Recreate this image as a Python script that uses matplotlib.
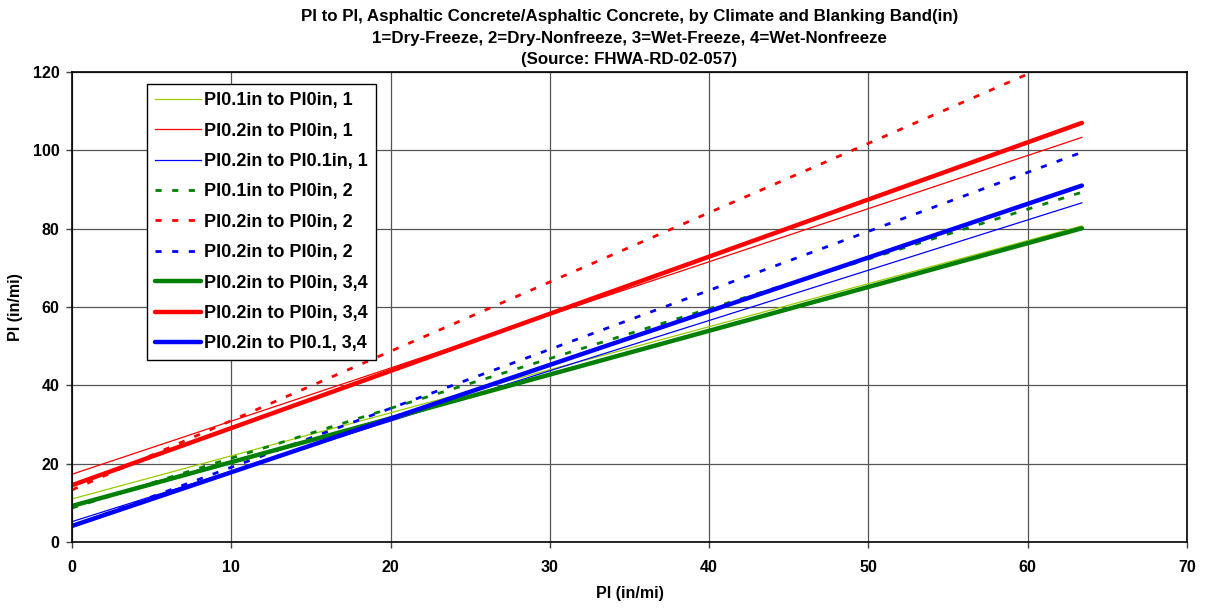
import matplotlib
matplotlib.use("Agg")
import matplotlib.pyplot as plt
import numpy as np

plt.rcParams['font.family'] = ['Liberation Sans', 'DejaVu Sans']
plt.rcParams['font.weight'] = 'bold'

# Regression lines: PI at x_start and x_end
x_start = 0.0
x_end = 63.4
labels = ["PI0.1in to PI0in, 1", "PI0.2in to PI0in, 1", "PI0.2in to PI0.1in, 1",
          "PI0.1in to PI0in, 2", "PI0.2in to PI0in, 2", "PI0.2in to PI0in, 2",
          "PI0.2in to PI0in, 3,4", "PI0.2in to PI0in, 3,4", "PI0.2in to PI0.1, 3,4"]
y_at_start = [11.0, 17.3, 5.2, 8.7, 13.3, 4.0, 9.2, 14.5, 4.1]
y_at_end = [80.7, 103.3, 86.6, 89.3, 125.5, 99.5, 80.1, 107.0, 91.0]
colors = ['#99CC00', '#FF0000', '#0000FF', '#008000', '#FF0000', '#0000FF',
          '#008000', '#FF0000', '#0000FF']
kinds = ['thin', 'thin', 'thin', 'dash', 'dash', 'dash', 'thick', 'thick', 'thick']

fig = plt.figure(figsize=(12.07, 6.09), dpi=100)
ax = fig.add_axes([72/1207, 67/609, 1115/1207, 470/609])

for lab, y0, y1, c, k in zip(labels, y_at_start, y_at_end, colors, kinds):
    xs = [x_start, x_end]
    ys = [y0, y1]
    if k == 'thin':
        ax.plot(xs, ys, color=c, lw=0.9, label=lab)
    elif k == 'dash':
        ax.plot(xs, ys, color=c, lw=2.0, dashes=(2.2, 3.8), dash_capstyle='butt', label=lab)
    else:
        ax.plot(xs, ys, color=c, lw=3.2, solid_capstyle='round', label=lab)

ax.set_xlim(0, 70)
ax.set_ylim(0, 120)
ax.set_xticks(np.arange(0, 71, 10))
ax.set_yticks(np.arange(0, 121, 20))
ax.grid(True, color='#555555', lw=0.9)
ax.set_axisbelow(True)
for s in ax.spines.values():
    s.set_color('black')
    s.set_linewidth(1.2)
ax.tick_params(axis='both', labelsize=11.5, width=1, length=4, color='#444444', pad=5)
for t in ax.get_xticklabels() + ax.get_yticklabels():
    t.set_fontweight('bold')
ax.tick_params(axis='x', pad=9)

ax.set_xlabel("PI (in/mi)", fontsize=11.5, fontweight='bold', labelpad=8)
ax.set_ylabel("PI (in/mi)", fontsize=11.5, fontweight='bold')
ax.yaxis.set_label_coords(-(72 - 23) / 1115, 0.5)

fig.suptitle("PI to PI, Asphaltic Concrete/Asphaltic Concrete, by Climate and Blanking Band(in)\n"
             "1=Dry-Freeze, 2=Dry-Nonfreeze, 3=Wet-Freeze, 4=Wet-Nonfreeze\n"
             "(Source: FHWA-RD-02-057)",
             x=(72 + 1187) / 2 / 1207, y=1 - 9/609, fontsize=12.2, fontweight='bold',
             linespacing=1.55, va='top')

leg = ax.legend(loc='upper left', bbox_to_anchor=(0.067, 0.974), borderaxespad=0,
                fancybox=False, frameon=True, edgecolor='black', framealpha=1,
                prop={'weight': 'bold', 'size': 13.0}, handlelength=2.55,
                labelspacing=0.74, handletextpad=0.2, borderpad=0.45)
leg.get_frame().set_linewidth(1.0)

fig.savefig("out.png", dpi=100)
